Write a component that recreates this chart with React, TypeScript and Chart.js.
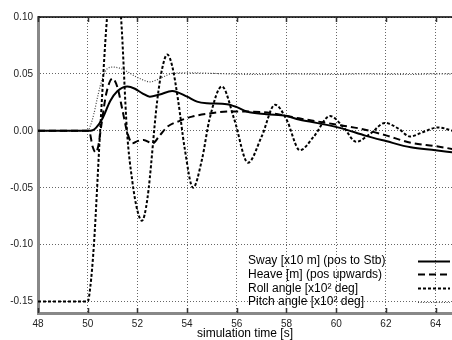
import React, { useEffect, useRef } from 'react';
import { Chart, registerables } from 'chart.js';

Chart.register(...registerables);

const X_TICKS = [48, 50, 52, 54, 56, 58, 60, 62, 64];
const Y_TICKS = [-0.15, -0.1, -0.05, 0, 0.05, 0.1];
const X_MIN = 48;
const X_MAX = 64.66;
const Y_MIN = -0.16;
const Y_MAX = 0.1;

const LEGEND_LABELS = [
  'Sway [x10 m] (pos to Stb)',
  'Heave [m] (pos upwards)',
  'Roll angle [x10\u00B2 deg]',
  'Pitch angle [x10\u00B2 deg]',
];
const X_TITLE = 'simulation time [s]';

const swayT = [48, 50, 50.2, 50.35, 50.6, 50.9, 51.2, 51.6, 51.9, 52.2, 52.5, 52.9, 53.4, 54.0, 54.4, 54.8, 55.6, 56.0, 56.4, 57.2, 58.0, 58.5, 59.2, 60.15, 61.2, 62.0, 63.0, 64.0, 64.7];
const swayV = [0, 0, 0.0005, 0.003, 0.011, 0.026, 0.035, 0.039, 0.037, 0.033, 0.030, 0.032, 0.035, 0.030, 0.0257, 0.0243, 0.0234, 0.0208, 0.017, 0.0146, 0.013, 0.010, 0.007, 0.0026, -0.0044, -0.009, -0.0145, -0.017, -0.019];

const heaveT = [48, 50.05, 50.2, 50.32, 50.42, 50.55, 50.75, 51.0, 51.2, 51.4, 51.6, 51.8, 52.0, 52.25, 52.6, 52.9, 53.2, 53.7, 54.2, 54.8, 55.8, 57.0, 57.8, 58.5, 60.15, 61.0, 62.0, 63.0, 64.0, 64.7];
const heaveV = [0, 0, -0.014, -0.019, -0.014, 0.005, 0.033, 0.046, 0.038, 0.018, -0.002, -0.011, -0.009, -0.008, -0.011, -0.004, 0.0035, 0.0088, 0.0125, 0.015, 0.017, 0.0165, 0.014, 0.011, 0.005, 0.0018, -0.004, -0.0105, -0.0135, -0.016];

const rollT = [48, 50.0, 50.1, 50.25, 50.5, 50.78, 51.06, 51.34, 51.58, 51.8, 52.0, 52.18, 52.4, 52.8, 53.0, 53.2, 53.4, 53.65, 53.9, 54.24, 54.6, 54.9, 55.4, 55.9, 56.45, 57.0, 57.54, 58.0, 58.54, 59.1, 59.75, 60.3, 60.8, 61.4, 61.96, 62.5, 62.97, 63.5, 64.1, 64.7];
const rollV = [-0.15, -0.15, -0.138, -0.1, 0.0, 0.1, 0.15, 0.1, 0.0, -0.045, -0.07, -0.079, -0.06, 0.027, 0.055, 0.067, 0.057, 0.025, -0.015, -0.05, -0.025, 0.01, 0.039, 0.01, -0.028, -0.005, 0.023, 0.01, -0.017, -0.005, 0.013, 0.003, -0.0096, -0.002, 0.007, 0.002, -0.005, -0.001, 0.003, 0.0];

const pitchT = [48, 50, 50.1, 50.25, 50.37, 50.5, 50.7, 51.0, 51.3, 51.6, 51.9, 52.2, 52.5, 52.8, 53.1, 53.4, 54, 55, 56, 57, 58, 59, 60, 61, 62, 63, 64, 64.7];
const pitchV = [0, 0, 0.004, 0.015, 0.027, 0.039, 0.052, 0.056, 0.055, 0.052, 0.048, 0.045, 0.043, 0.045, 0.048, 0.0505, 0.051, 0.0505, 0.0498, 0.0495, 0.05, 0.0498, 0.0495, 0.05, 0.0497, 0.0495, 0.05, 0.0498];

const pts = (t: number[], v: number[]) => t.map((x, i) => ({ x, y: v[i] }));

const FONT = '"Liberation Sans", Arial, Helvetica, sans-serif';

const decorPlugin = {
  id: 'decor',
  afterDraw(chart: any) {
    const { ctx, chartArea } = chart;
    const xs = chart.scales.x;
    ctx.save();
    // top border
    ctx.strokeStyle = '#000';
    ctx.lineWidth = 1.5;
    ctx.setLineDash([]);
    ctx.beginPath();
    ctx.moveTo(chartArea.left, chartArea.top);
    ctx.lineTo(chartArea.right, chartArea.top);
    ctx.stroke();
    // tick marks
    ctx.lineWidth = 1.5;
    ctx.strokeStyle = '#333';
    X_TICKS.forEach((t) => {
      const px = Math.round(xs.getPixelForValue(t)) + 0.5;
      ctx.beginPath();
      ctx.moveTo(px, chartArea.top);
      ctx.lineTo(px, chartArea.top + 5);
      ctx.moveTo(px, chartArea.bottom - 5);
      ctx.lineTo(px, chartArea.bottom);
      ctx.stroke();
    });
    // legend
    ctx.font = '12px ' + FONT;
    ctx.fillStyle = '#000';
    ctx.textBaseline = 'middle';
    ctx.textAlign = 'left';
    const n = LEGEND_LABELS.length;
    chart.data.datasets.forEach((ds: any, i: number) => {
      const y = chartArea.bottom - 11 - (n - 1 - i) * 13.8;
      ctx.fillText(LEGEND_LABELS[i], 248, y);
      ctx.strokeStyle = ds.borderColor;
      ctx.lineWidth = ds.borderWidth;
      ctx.setLineDash(ds.borderDash || []);
      ctx.beginPath();
      ctx.moveTo(418, Math.round(y) + 0.5);
      ctx.lineTo(450, Math.round(y) + 0.5);
      ctx.stroke();
    });
    ctx.restore();
  },
};

export default function App() {
  const ref = useRef<HTMLCanvasElement | null>(null);
  useEffect(() => {
    if (!ref.current) return;
    const chart = new Chart(ref.current, {
      type: 'line',
      data: {
        datasets: [
          { label: LEGEND_LABELS[0], data: pts(swayT, swayV), borderColor: '#000', borderWidth: 2, borderDash: [], pointRadius: 0, cubicInterpolationMode: 'monotone', fill: false },
          { label: LEGEND_LABELS[1], data: pts(heaveT, heaveV), borderColor: '#000', borderWidth: 2, borderDash: [7, 4], pointRadius: 0, cubicInterpolationMode: 'monotone', fill: false },
          { label: LEGEND_LABELS[2], data: pts(rollT, rollV), borderColor: '#000', borderWidth: 2, borderDash: [3, 2], pointRadius: 0, cubicInterpolationMode: 'monotone', fill: false },
          { label: LEGEND_LABELS[3], data: pts(pitchT, pitchV), borderColor: '#444', borderWidth: 1.2, borderDash: [1, 1.6], pointRadius: 0, cubicInterpolationMode: 'monotone', fill: false },
        ] as any,
      },
      options: {
        animation: false,
        responsive: false,
        maintainAspectRatio: false,
        layout: { padding: { top: 17, right: 0, bottom: 0, left: 0 } },
        plugins: { legend: { display: false }, tooltip: { enabled: false } },
        scales: {
          x: {
            type: 'linear',
            min: X_MIN,
            max: X_MAX,
            afterBuildTicks: (s: any) => { s.ticks = X_TICKS.map((v) => ({ value: v })); },
            afterFit: (s: any) => { s.height = 27; },
            ticks: { padding: 5, color: '#222', font: { size: 10, family: FONT }, maxRotation: 0, callback: (v: any) => String(v) },
            grid: { color: '#666', lineWidth: 1, drawTicks: false },
            border: { display: true, color: '#888', width: 3, dash: [1, 2] },
            title: { display: true, text: X_TITLE, color: '#000', font: { size: 12, family: FONT }, padding: { top: 0, bottom: -1 } },
          },
          y: {
            type: 'linear',
            min: Y_MIN,
            max: Y_MAX,
            afterBuildTicks: (s: any) => { s.ticks = Y_TICKS.map((v) => ({ value: v })); },
            afterFit: (s: any) => { s.width = 38; },
            ticks: { padding: 5, color: '#222', font: { size: 10, family: FONT }, callback: (v: any) => Number(v).toFixed(2) },
            grid: { color: '#666', lineWidth: 1, drawTicks: false },
            border: { display: true, color: '#888', width: 3, dash: [1, 2] },
          },
        },
      } as any,
      plugins: [decorPlugin],
    });
    return () => chart.destroy();
  }, []);
  return (
    <div style={{ position: 'fixed', left: 0, top: 0, width: 452, height: 340, background: '#fff' }}>
      <canvas ref={ref} width={452} height={340} style={{ display: 'block', width: 452, height: 340 }} />
    </div>
  );
}
